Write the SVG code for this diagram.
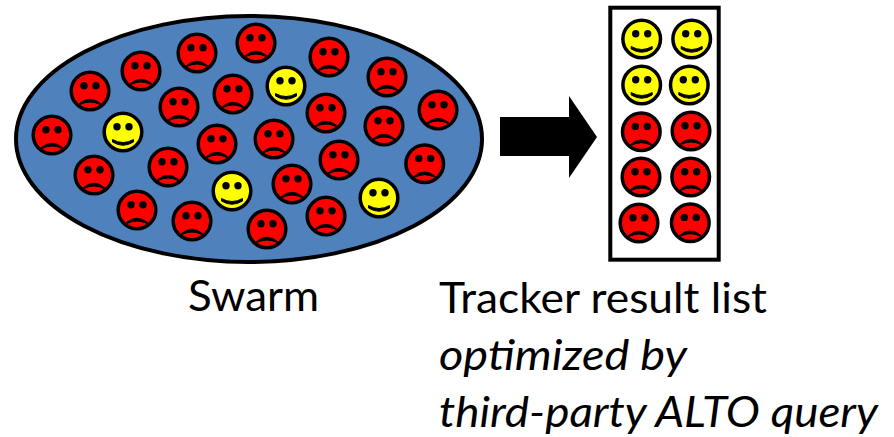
<svg xmlns="http://www.w3.org/2000/svg" xmlns:xlink="http://www.w3.org/1999/xlink" width="894" height="437" viewBox="0 0 894 437">
<style>
.o{stroke:#000;stroke-width:4;fill:#fff}
.t{font-family:"Lato","Open Sans","Liberation Sans",sans-serif;font-size:42px;fill:#000}
.i{font-style:italic}
.r{fill:#f00}.y{fill:#ff0}
.f{stroke:#000;stroke-width:3.500}
</style>
<defs>
<g id="eyes"><circle cx="-6" cy="-5.300" r="3.700"/><circle cx="6" cy="-5.300" r="3.700"/></g>
<g id="sad"><circle class="f r" r="18.800"/><use href="#eyes"/><path d="M-10.500 12.500Q0 4 10.500 12.500L10 13.500Q0 8.500 -10 13.500Z" stroke="#000" stroke-width="1"/></g>
<g id="happy"><circle class="f y" r="18.800"/><use href="#eyes"/><path d="M-10.500 7.500Q0 13.500 10.500 7.500L10.500 10Q0 16.500 -10.500 10Z" stroke="#000" stroke-width="1"/></g>
</defs>
<g id="swarm">
<ellipse cx="249" cy="139" rx="233" ry="123" fill="#4f81bd" stroke="#000" stroke-width="4"/>
<use href="#sad" x="52" y="135"/><use href="#sad" x="90" y="91"/><use href="#sad" x="141" y="71"/><use href="#sad" x="197" y="53"/><use href="#sad" x="256" y="43"/><use href="#sad" x="329" y="57"/><use href="#sad" x="387" y="77"/><use href="#sad" x="438" y="110"/><use href="#sad" x="179" y="107"/><use href="#sad" x="233" y="94"/><use href="#sad" x="326" y="113"/><use href="#sad" x="384" y="126"/><use href="#sad" x="217" y="144"/><use href="#sad" x="274" y="139"/><use href="#sad" x="94" y="175"/><use href="#sad" x="168" y="167"/><use href="#sad" x="339" y="160"/><use href="#sad" x="424.700" y="163.700"/><use href="#sad" x="137" y="210"/><use href="#sad" x="192" y="221"/><use href="#sad" x="267" y="229"/><use href="#sad" x="326" y="216"/><use href="#sad" x="292" y="184"/>
<use href="#happy" x="123" y="132"/><use href="#happy" x="286" y="86"/><use href="#happy" x="232" y="191"/><use href="#happy" x="379" y="198"/>
</g>
<g id="connectors"><path id="arrow" d="M500 117H569V96L597 137L569 178V156H500Z" fill="#000"/></g>
<g id="result-list">
<rect class="o" x="610.300" y="7.700" width="108.400" height="252"/>
<use href="#happy" x="641.700" y="39"/><use href="#happy" x="691.700" y="39"/><use href="#happy" x="641.700" y="85"/><use href="#happy" x="689.300" y="85"/>
<use href="#sad" x="641.300" y="131.700"/><use href="#sad" x="691" y="131"/><use href="#sad" x="641" y="177"/><use href="#sad" x="690.700" y="177"/><use href="#sad" x="639" y="223"/><use href="#sad" x="690.300" y="222.700"/>
</g>
<g id="labels">
<text class="t" x="188" y="311" textLength="131" lengthAdjust="spacingAndGlyphs">Swarm</text>
<text class="t" x="439" y="313" textLength="328" lengthAdjust="spacingAndGlyphs">Tracker result list</text>
<text class="t i" x="439" y="370" textLength="248" lengthAdjust="spacingAndGlyphs">optimized by</text>
<text class="t i" x="439" y="427" textLength="439" lengthAdjust="spacingAndGlyphs">third-party ALTO query</text>
</g>
</svg>
